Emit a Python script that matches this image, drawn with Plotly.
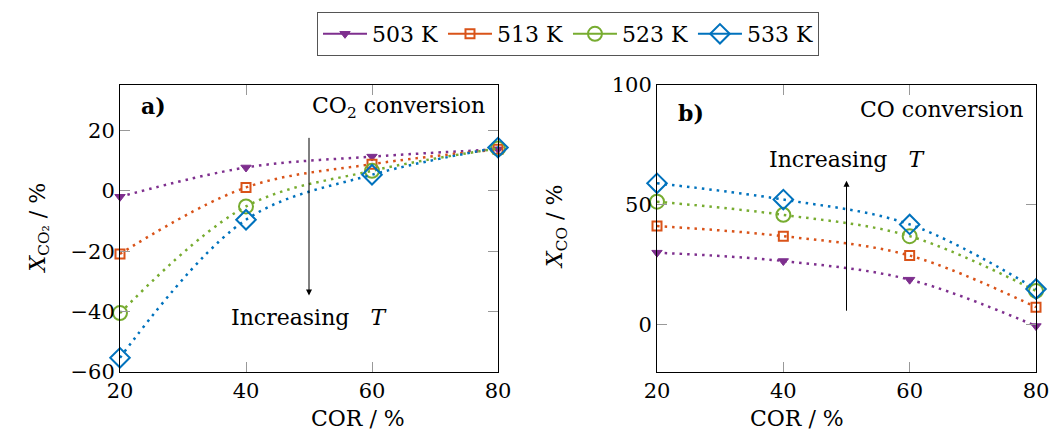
import plotly.graph_objects as go

cor = [20, 40, 60, 80]
temps = ["503 K", "513 K", "523 K", "533 K"]
x_co2 = {
    "503 K": [-2.0, 7.7, 11.3, 13.7],
    "513 K": [-20.9, 1.1, 8.8, 13.7],
    "523 K": [-40.5, -5.2, 6.6, 14.0],
    "533 K": [-55.3, -9.6, 5.3, 14.3],
}
x_co = {
    "503 K": [29.9, 26.4, 18.6, -0.8],
    "513 K": [41.0, 36.8, 28.7, 7.1],
    "523 K": [51.2, 45.7, 36.8, 13.9],
    "533 K": [58.9, 52.1, 41.7, 14.7],
}

colors = ["#7E2F8E", "#D95319", "#77AC30", "#0072BD"]
symbols = ["triangle-down", "square-open", "circle-open", "diamond-open"]
sizes = [9, 9, 14, 15]
mlw = [1, 2, 2, 2]

FONT = "'DejaVu Serif', serif"
W, H = 1050, 446
fig = go.Figure()

for i, t in enumerate(temps):
    for data, xa, ya in [(x_co2, "x", "y"), (x_co, "x2", "y2")]:
        fig.add_trace(go.Scatter(
            x=cor, y=data[t], xaxis=xa, yaxis=ya, mode="lines+markers",
            line=dict(color=colors[i], width=2.5, dash="2.5px,5px", shape="spline", smoothing=1),
            marker=dict(symbol=symbols[i], size=sizes[i], color=colors[i],
                        line=dict(color=colors[i], width=mlw[i])),
            showlegend=False, cliponaxis=False))
    fig.add_trace(go.Scatter(
        x=[None], y=[None], mode="lines+markers", name=t,
        line=dict(color=colors[i], width=2),
        marker=dict(symbol=symbols[i], size=sizes[i], color=colors[i],
                    line=dict(color=colors[i], width=mlw[i]))))

axis_common = dict(showline=True, linecolor="black", linewidth=1, mirror="ticks",
                   ticks="inside", ticklen=10, tickcolor="#999999", showgrid=False,
                   zeroline=False, automargin=False,
                   tickfont=dict(family=FONT, size=21, color="black"))

fig.update_layout(
    width=W, height=H, margin=dict(l=0, r=0, t=0, b=0, autoexpand=False),
    plot_bgcolor="white", paper_bgcolor="white",
    font=dict(family=FONT, size=21, color="black"),
    xaxis=dict(domain=[120/W, 498/W], range=[20, 80], tickvals=[20, 40, 60, 80],
               anchor="y", **axis_common),
    yaxis=dict(domain=[1-372/H, 1-85/H], range=[-60, 35], tickvals=[-60, -40, -20, 0, 20],
               ticktext=["\u221260", "\u221240", "\u221220", "0", "20"], anchor="x", **axis_common),
    xaxis2=dict(domain=[657/W, 1036/W], range=[20, 80], tickvals=[20, 40, 60, 80],
                anchor="y2", **axis_common),
    yaxis2=dict(domain=[1-372/H, 1-85/H], range=[-20, 100], tickvals=[0, 50, 100],
                anchor="x2", **axis_common),
    legend=dict(orientation="h", x=568/W, xanchor="center", y=1-12/H, yanchor="top",
                bordercolor="#555555", borderwidth=1, font=dict(family=FONT, size=22),
                itemwidth=44, tracegroupgap=0),
)

gap = "\u00a0\u00a0\u00a0"
ann = [
    # axis titles
    dict(x=309/W, y=1-433/H, xref="paper", yref="paper", text="COR / %", showarrow=False,
         font=dict(size=22)),
    dict(x=846/W, y=1-433/H, xref="paper", yref="paper", text="COR / %", showarrow=False,
         font=dict(size=22)),
    dict(x=22/W, y=1-228/H, xref="paper", yref="paper", text="<i>X</i><sub>CO\u2082</sub> / %",
         showarrow=False, textangle=-90, font=dict(size=22)),
    dict(x=556/W, y=1-227/H, xref="paper", yref="paper", text="<i>X</i><sub>CO</sub> / %",
         showarrow=False, textangle=-90, font=dict(size=22)),
    # panel a
    dict(x=50, y=-34.7, ax=50, ay=18, xref="x", yref="y", axref="x", ayref="y",
         showarrow=True, arrowhead=2, arrowsize=1.2, arrowwidth=1, arrowcolor="black", text=""),
    dict(x=50, y=-42, xref="x", yref="y", text="Increasing" + gap + "<i>T</i>", showarrow=False,
         font=dict(size=22)),
    dict(x=78.3, y=27.4, xref="x", yref="y", text="CO<sub>2</sub> conversion", showarrow=False,
         xanchor="right", font=dict(size=22)),
    dict(x=23.0, y=28.0, xref="x", yref="y", text="<b>a)</b>", showarrow=False,
         xanchor="left", font=dict(size=22)),
    # panel b
    dict(x=50, y=60, ax=50, ay=5, xref="x2", yref="y2", axref="x2", ayref="y2",
         showarrow=True, arrowhead=2, arrowsize=1.2, arrowwidth=1, arrowcolor="black", text=""),
    dict(x=50, y=68.7, xref="x2", yref="y2", text="Increasing" + gap + "<i>T</i>", showarrow=False,
         font=dict(size=22)),
    dict(x=78.3, y=89.6, xref="x2", yref="y2", text="CO conversion", showarrow=False,
         xanchor="right", font=dict(size=22)),
    dict(x=23.0, y=88.5, xref="x2", yref="y2", text="<b>b)</b>", showarrow=False,
         xanchor="left", font=dict(size=22)),
]
fig.update_layout(annotations=ann)

fig.write_html("out.html", config={"displayModeBar": False},
               post_script="document.body.style.margin='0';")
